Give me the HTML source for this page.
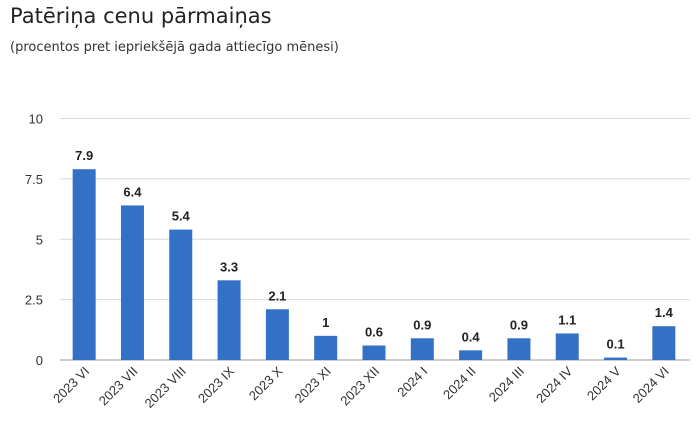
<!DOCTYPE html>
<html><head><meta charset="utf-8"><style>
body{margin:0;background:#fff;font-family:"Liberation Sans","DejaVu Sans",sans-serif;}
#wrap{position:relative;width:700px;height:431px;overflow:hidden;}
h1{position:absolute;left:10px;top:4px;margin:0;font-size:21px;font-weight:normal;color:#222;font-family:"DejaVu Sans",sans-serif;}
.sub{position:absolute;left:10px;top:40px;font-size:13px;color:#333;font-family:"DejaVu Sans",sans-serif;}
</style></head><body>
<div id="wrap">
<h1>Patēriņa cenu pārmaiņas</h1>
<div class="sub">(procentos pret iepriekšējā gada attiecīgo mēnesi)</div>
<svg id="svg" width="700" height="431" style="position:absolute;left:0;top:0"></svg>
</div>
<script>
const categories=["2023 VI","2023 VII","2023 VIII","2023 IX","2023 X","2023 XI","2023 XII","2024 I","2024 II","2024 III","2024 IV","2024 V","2024 VI"];
const values=[7.9,6.4,5.4,3.3,2.1,1,0.6,0.9,0.4,0.9,1.1,0.1,1.4];
const valueLabels=["7.9","6.4","5.4","3.3","2.1","1","0.6","0.9","0.4","0.9","1.1","0.1","1.4"];
const ticks=[0,2.5,5,7.5,10];
const tickLabels=["0","2.5","5","7.5","10"];
const NS="http://www.w3.org/2000/svg";
const svg=document.getElementById('svg');
const x0=60,x1=688,yTop=118.5,yBot=360,ymax=10;
const band=(x1-x0)/categories.length, bw=23;
const y=v=>yBot-(v/ymax)*(yBot-yTop);
const xc=i=>x0+band*(i+0.5);
function mk(t,a){const e=document.createElementNS(NS,t);for(const k in a)e.setAttribute(k,a[k]);svg.appendChild(e);return e;}
ticks.forEach((t,i)=>{
 const l=mk('line',{x1:x0,x2:x1+2,y1:y(t),y2:y(t),stroke:i==0?'#999':'#d9d9d9','stroke-width':1});
 
 
 const tx=mk('text',{x:43,y:y(t)+5,'text-anchor':'end','font-size':13,fill:'#333'});
 tx.textContent=tickLabels[i];
 
 
});
values.forEach((v,i)=>{
 const r=mk('rect',{x:xc(i)-bw/2,y:y(v),width:bw,height:yBot-y(v),fill:'#3371c6'});
 
 
 const t=mk('text',{x:xc(i),y:y(v)-9,'text-anchor':'middle','font-size':13,'font-weight':'bold',fill:'#222'});
 t.textContent=valueLabels[i];
 
 
 const c=mk('text',{x:xc(i)+6,y:yBot+12,'text-anchor':'end','font-size':13,fill:'#333',transform:`rotate(-45 ${xc(i)+6} ${yBot+12})`});
 c.textContent=categories[i];
 
 
});
</script>
</body></html>
